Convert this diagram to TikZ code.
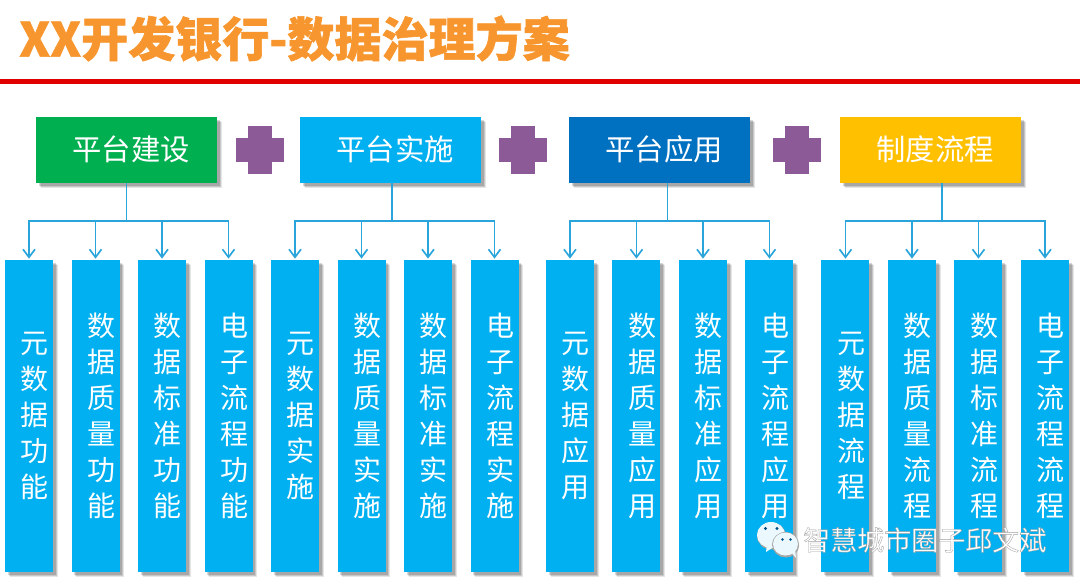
\documentclass[tikz,border=0pt]{standalone}
\usepackage{fontspec}
\usepackage{xcolor}
\usepackage{tikz}
\usetikzlibrary{arrows.meta,positioning,shadows}
\setmainfont{Noto Sans CJK SC}
\definecolor{cTitle}{HTML}{F7962F}
\definecolor{cRule}{HTML}{E00000}
\definecolor{cA}{HTML}{00B050}
\definecolor{cB}{HTML}{00B0F0}
\definecolor{cC}{HTML}{0070C0}
\definecolor{cD}{HTML}{FFC000}
\definecolor{cP}{HTML}{8C5A96}
\definecolor{cL}{HTML}{2AA5DC}
\newcommand{\vtxt}[1]{\hspace*{8.5pt}\raisebox{1.5pt}{\parbox{1em}{\centering #1}}}
\newcommand{\ptxt}[1]{\hspace*{7pt}\raisebox{3pt}{#1}}
\newcommand{\halo}[1]{\special{pdf:code q 2 Tr 0.25 w 0.62 G}#1\special{pdf:code Q}}
\newcommand{\heavy}[1]{\special{pdf:code q 2 Tr 0.45 w 0.97 0.59 0.18 RG}#1\special{pdf:code Q}}
\tikzset{
  softshadow/.style={
    drop shadow={shadow xshift=3.5pt,shadow yshift=-3.5pt,fill=black,opacity=.10},
    drop shadow={shadow xshift=2.75pt,shadow yshift=-2.75pt,fill=black,opacity=.13},
    drop shadow={shadow xshift=2pt,shadow yshift=-2pt,fill=black,opacity=.16}},
  plat/.style={fill=#1,text=white,minimum width=135.75pt,minimum height=49.5pt,inner sep=0pt,outer sep=0pt,
    font=\fontsize{22}{26}\selectfont,softshadow},
  col/.style={fill=cB,text=white,minimum width=36pt,minimum height=234pt,inner sep=0pt,outer sep=0pt,
    font=\fontsize{21}{27}\selectfont,softshadow},
  plusbar/.style={fill=cP,inner sep=0pt,outer sep=0pt},
  flow/.style={-{Straight Barb[length=6pt,width=9pt]},cL,line width=1.25pt,shorten >=1pt}
}
\begin{document}
\begin{tikzpicture}[x=0.75pt,y=-0.75pt]
    \useasboundingbox (0,0) rectangle (1080,588);
    % Title
    \node[anchor=west,inner sep=0pt,text=cTitle,font=\fontsize{35.3}{40}\bfseries] (title) at (19,38.5) {\heavy{XX开发银行-数据治理方案}};
    \fill[cRule] (0,79) rectangle (1080,84);

    % Top row
    \node[plat=cA] (plat1) at (126.5,150) {\ptxt{平台建设}};
    \node[plusbar,minimum width=36pt,minimum height=18pt,right=13.9pt of plat1] (plus1a) {};
    \node[plusbar,minimum width=18pt,minimum height=36pt] (plus1b) at (plus1a) {};
    \node[plat=cB,right=12.4pt of plus1a] (plat2) {\ptxt{平台实施}};
    \node[plusbar,minimum width=36pt,minimum height=18pt,right=13.5pt of plat2] (plus2a) {};
    \node[plusbar,minimum width=18pt,minimum height=36pt] (plus2b) at (plus2a) {};
    \node[plat=cC,right=16.5pt of plus2a] (plat3) {\ptxt{平台应用}};
    \node[plusbar,minimum width=36pt,minimum height=18pt,right=17.25pt of plat3] (plus3a) {};
    \node[plusbar,minimum width=18pt,minimum height=36pt] (plus3b) at (plus3a) {};
    \node[plat=cD,right=14.25pt of plus3a] (plat4) {\ptxt{制度流程}};

    % Columns
    \node[col] (c1) at (29,416) {\vtxt{元\\数\\据\\功\\能}};
    \node[col,right=13.875pt of c1] (c2) {\vtxt{数\\据\\质\\量\\功\\能}};
    \node[col,right=13.875pt of c2] (c3) {\vtxt{数\\据\\标\\准\\功\\能}};
    \node[col,right=13.875pt of c3] (c4) {\vtxt{电\\子\\流\\程\\功\\能}};
    \node[col,right=13.875pt of c4] (c5) {\vtxt{元\\数\\据\\实\\施}};
    \node[col,right=13.875pt of c5] (c6) {\vtxt{数\\据\\质\\量\\实\\施}};
    \node[col,right=13.875pt of c6] (c7) {\vtxt{数\\据\\标\\准\\实\\施}};
    \node[col,right=13.875pt of c7] (c8) {\vtxt{电\\子\\流\\程\\实\\施}};
    \node[col,right=20.6pt of c8] (c9) {\vtxt{元\\数\\据\\应\\用}};
    \node[col,right=13.875pt of c9] (c10) {\vtxt{数\\据\\质\\量\\应\\用}};
    \node[col,right=13.875pt of c10] (c11) {\vtxt{数\\据\\标\\准\\应\\用}};
    \node[col,right=13.875pt of c11] (c12) {\vtxt{电\\子\\流\\程\\应\\用}};
    \node[col,right=21pt of c12] (c13) {\vtxt{元\\数\\据\\流\\程}};
    \node[col,right=13.875pt of c13] (c14) {\vtxt{数\\据\\质\\量\\流\\程}};
    \node[col,right=13.875pt of c14] (c15) {\vtxt{数\\据\\标\\准\\流\\程}};
    \node[col,right=13.875pt of c15] (c16) {\vtxt{电\\子\\流\\程\\流\\程}};

    % Paths
    \draw[flow] (plat1.south) -- ++(0,38) -| (c1.north);
    \draw[flow] (plat1.south) -- ++(0,38) -| (c2.north);
    \draw[flow] (plat1.south) -- ++(0,38) -| (c3.north);
    \draw[flow] (plat1.south) -- ++(0,38) -| (c4.north);
    \draw[flow] ([xshift=1.1pt]plat2.south) -- ++(0,38) -| (c5.north);
    \draw[flow] ([xshift=1.1pt]plat2.south) -- ++(0,38) -| (c6.north);
    \draw[flow] ([xshift=1.1pt]plat2.south) -- ++(0,38) -| (c7.north);
    \draw[flow] ([xshift=1.1pt]plat2.south) -- ++(0,38) -| (c8.north);
    \draw[flow] ([xshift=6pt]plat3.south) -- ++(0,38) -| (c9.north);
    \draw[flow] ([xshift=6pt]plat3.south) -- ++(0,38) -| (c10.north);
    \draw[flow] ([xshift=6pt]plat3.south) -- ++(0,38) -| (c11.north);
    \draw[flow] ([xshift=6pt]plat3.south) -- ++(0,38) -| (c12.north);
    \draw[flow] ([xshift=8.6pt]plat4.south) -- ++(0,38) -| (c13.north);
    \draw[flow] ([xshift=8.6pt]plat4.south) -- ++(0,38) -| (c14.north);
    \draw[flow] ([xshift=8.6pt]plat4.south) -- ++(0,38) -| (c15.north);
    \draw[flow] ([xshift=8.6pt]plat4.south) -- ++(0,38) -| (c16.north);

    % Watermark
    \fill[gray!70] (771.5,536) ellipse [x radius=14.5,y radius=13.5];
    \fill[gray!70] (786,545.5) ellipse [x radius=13,y radius=12];
    \fill[white!92!cB] (771,535) ellipse [x radius=14,y radius=13];
    \fill[white!92!cB] (767,544) -- (766,552) -- (775,546) -- cycle;
    \fill[gray!70] (785.5,544.5) ellipse [x radius=13.5,y radius=12.5];
    \fill[white!92!cB] (785.5,544) ellipse [x radius=12.5,y radius=11.5];
    \fill[white!92!cB] (791,552) -- (796,558) -- (795,548) -- cycle;
    \fill[cC!70!black] (765.5,528.5) circle (1.6) (777,528.5) circle (1.6) (782.5,539.5) circle (1.4) (790.5,539.5) circle (1.4);
    \node[anchor=west,inner sep=0pt,text=white,font=\fontsize{20.25}{24}\selectfont] (mark) at (803,540) {\halo{智慧城市圈子邱文斌}};
\end{tikzpicture}
\end{document}
